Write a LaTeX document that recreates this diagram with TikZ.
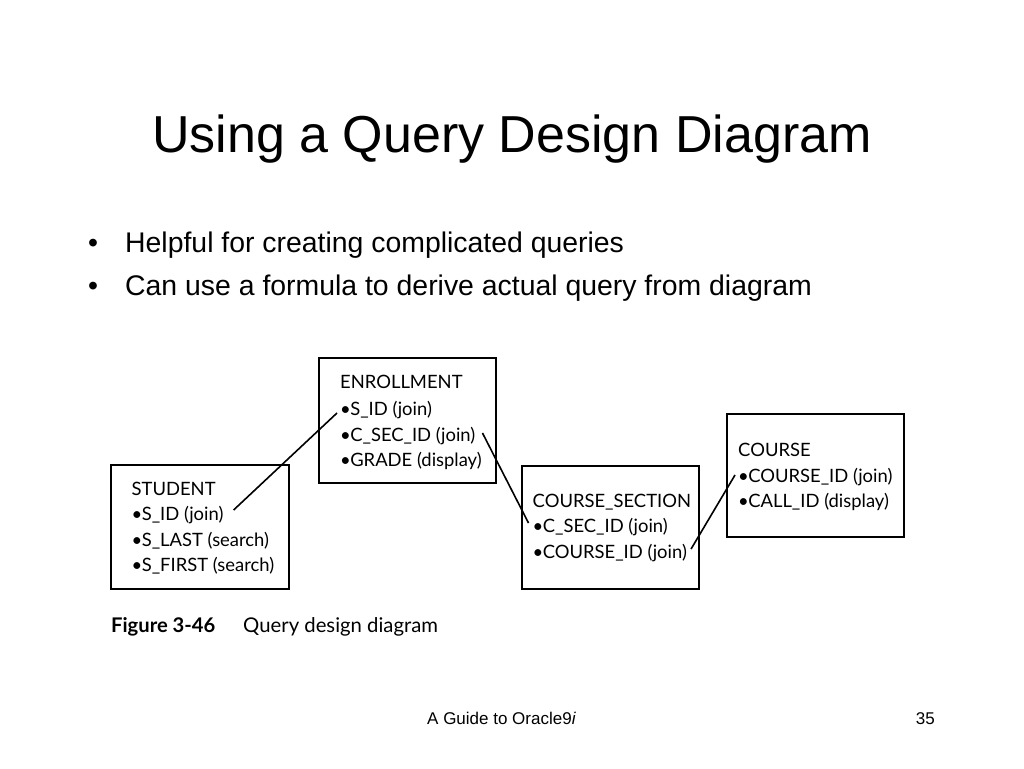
\documentclass[tikz,border=0pt]{standalone}
\usepackage{fontspec}
\setmainfont{Liberation Sans}
\newfontfamily\figfont{Lato}
\newcommand\bl{\textbullet\kern-0.6pt}
\begin{document}
\begin{tikzpicture}[x=1pt,y=-1pt,
  box/.style={draw,line width=2pt,fill=white},
  row/.style={anchor=base west,inner sep=0pt,font=\figfont\fontsize{18.4}{20}\selectfont},
  link/.style={line width=1.6pt},
  bul/.style={anchor=base west,inner sep=0pt,font=\fontsize{28.4}{30}\selectfont}]
\useasboundingbox (0,0) rectangle (1024,768);
\node[anchor=base,inner sep=0pt,font=\fontsize{52}{56}\selectfont] (title) at (512,152) {Using a Query Design Diagram};
\node[bul] (b1) at (88,252) {•};
\node[bul] (t1) at (125,252) {Helpful for creating complicated queries};
\node[bul] (b2) at (88,295) {•};
\node[bul] (t2) at (125,295) {Can use a formula to derive actual query from diagram};
% boxes
\draw[box] (111,465) rectangle (289,589);
\draw[box] (319,358) rectangle (496,483);
\draw[box] (522,466) rectangle (699,589);
\draw[box] (727,414) rectangle (904,537);
% STUDENT
\node[row] (stud) at (131.5,495) {STUDENT};
\node[row] (stud-sid) at (131.5,520) {\bl S\_ID (join)};
\node[row] (stud-last) at (131.5,546) {\bl S\_LAST (search)};
\node[row] (stud-first) at (131.5,571) {\bl S\_FIRST (search)};
% ENROLLMENT
\node[row] (enr) at (340,388) {ENROLLMENT};
\node[row] (enr-sid) at (340,415) {\bl S\_ID (join)};
\node[row] (enr-csec) at (340,441) {\bl C\_SEC\_ID (join)};
\node[row] (enr-grade) at (340,466) {\bl GRADE (display)};
% COURSE_SECTION
\node[row] (cs) at (532.5,507) {COURSE\_SECTION};
\node[row] (cs-csec) at (532.5,532) {\bl C\_SEC\_ID (join)};
\node[row] (cs-cid) at (532.5,558) {\bl COURSE\_ID (join)};
% COURSE
\node[row] (c) at (738,456) {COURSE};
\node[row] (c-cid) at (738,482) {\bl COURSE\_ID (join)};
\node[row] (c-call) at (738,507) {\bl CALL\_ID (display)};
% connectors
\draw[link] ([shift={(10pt,10pt)}]stud-sid.base east) -- ([shift={(-3pt,2pt)}]enr-sid.base west);
\draw[link] ([shift={(7pt,8pt)}]enr-csec.base east) -- ([shift={(-4pt,9pt)}]cs-csec.base west);
\draw[link] ([shift={(4pt,9pt)}]cs-cid.base east) -- ([shift={(-3pt,7pt)}]c-cid.base west);
% caption
\node[anchor=base west,inner sep=0pt,font=\figfont\bfseries\fontsize{20.2}{22}\selectfont] (figno) at (111,632) {Figure 3-46};
\node[anchor=base west,inner sep=0pt,font=\figfont\fontsize{20.3}{22}\selectfont] (figcap) at (243,632) {Query design diagram};
% footer
\node[anchor=base west,inner sep=0pt,font=\fontsize{17}{18}\selectfont] (foot) at (427,724) {A Guide to Oracle9\textit{i}};
\node[anchor=base east,inner sep=0pt,font=\fontsize{17}{18}\selectfont] (page) at (935,724) {35};
\end{tikzpicture}
\end{document}
